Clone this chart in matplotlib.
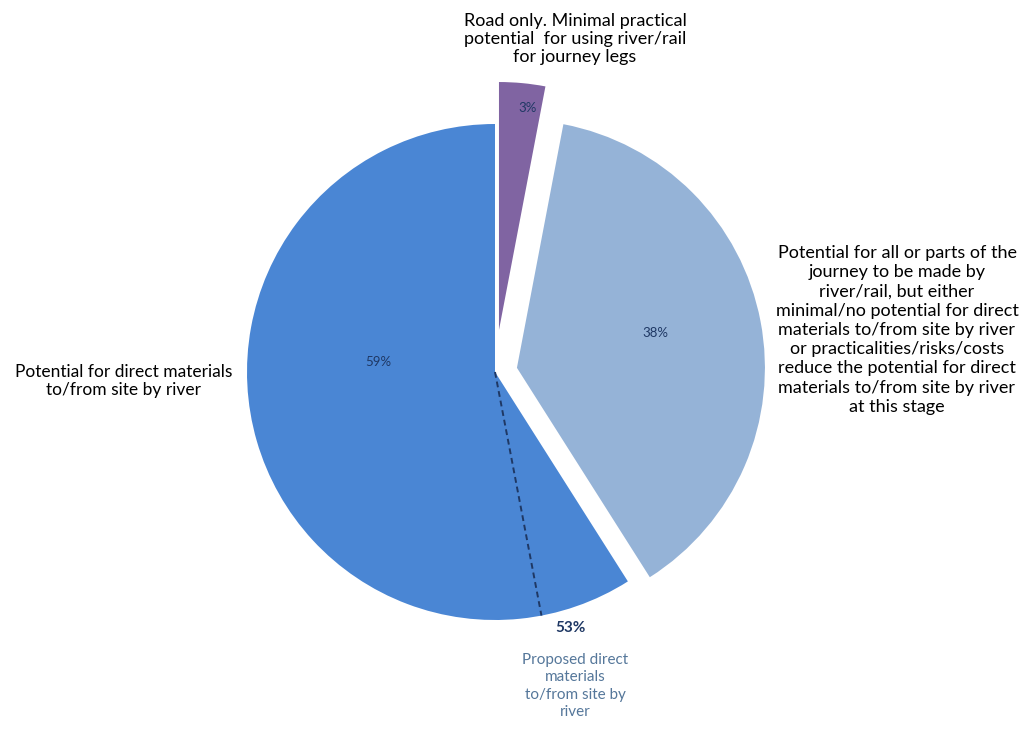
import matplotlib
matplotlib.use("Agg")
import matplotlib.pyplot as plt
import numpy as np

plt.rcParams['font.family'] = ['Lato', 'DejaVu Sans']

# Data
categories = [
    "Road only. Minimal practical\npotential  for using river/rail\nfor journey legs",
    "Potential for all or parts of the\njourney to be made by\nriver/rail, but either\nminimal/no potential for direct\nmaterials to/from site by river\nor practicalities/risks/costs\nreduce the potential for direct\nmaterials to/from site by river\nat this stage",
    "Potential for direct materials\nto/from site by river",
]
shares = [3, 38, 59]
pct_labels = ["3%", "38%", "59%"]
proposed_share = 53
proposed_label = "Proposed direct\nmaterials\nto/from site by\nriver"

colors = ["#8064a2", "#95b3d7", "#4a86d4"]
explode = [0.17, 0.09, 0.0]

W, H = 1029, 729
CX, CY, R = 495, 372, 248

fig = plt.figure(figsize=(W / 100, H / 100), dpi=100)
ax = fig.add_axes([0, 0, 1, 1])

def px(x, y):
    return (x - CX) / R, (CY - y) / R

wedges, _ = ax.pie(shares, colors=colors, explode=explode, startangle=90,
                   counterclock=False, radius=1, center=(0, 0),
                   wedgeprops=dict(linewidth=0))

ax.set_xlim(-CX / R, (W - CX) / R)
ax.set_ylim(-(H - CY) / R, CY / R)
ax.set_aspect('equal')
ax.axis('off')

# dashed line for proposed share (measured counter-clockwise from top)
ang = np.deg2rad(90 + proposed_share / 100 * 360)
ax.plot([0, np.cos(ang)], [0, np.sin(ang)], ls=(0, (3, 2)), color="#1f3864", lw=1.4)

navy = "#1f3864"
# percentage labels
for (x, y), t in zip([(528, 108), (655, 333), (378, 362)], pct_labels):
    ax.text(*px(x, y), t, ha='center', va='center', fontsize=9.5, color=navy)

# category labels
ax.text(*px(575, 39), categories[0], ha='center', va='center', fontsize=13,
        color='black', linespacing=1.15)
ax.text(*px(897, 330), categories[1], ha='center', va='center', fontsize=13,
        color='black', linespacing=1.25)
ax.text(*px(124, 381), categories[2], ha='center', va='center', fontsize=12.5,
        color='black', linespacing=1.2)

ax.text(*px(571, 628), f"{proposed_share}%", ha='center', va='center', fontsize=11,
        color=navy, fontweight='bold')
ax.text(*px(575, 686), proposed_label, ha='center', va='center', fontsize=11,
        color="#55779a", linespacing=1.3)

fig.savefig("out.png", dpi=100, facecolor='white')
